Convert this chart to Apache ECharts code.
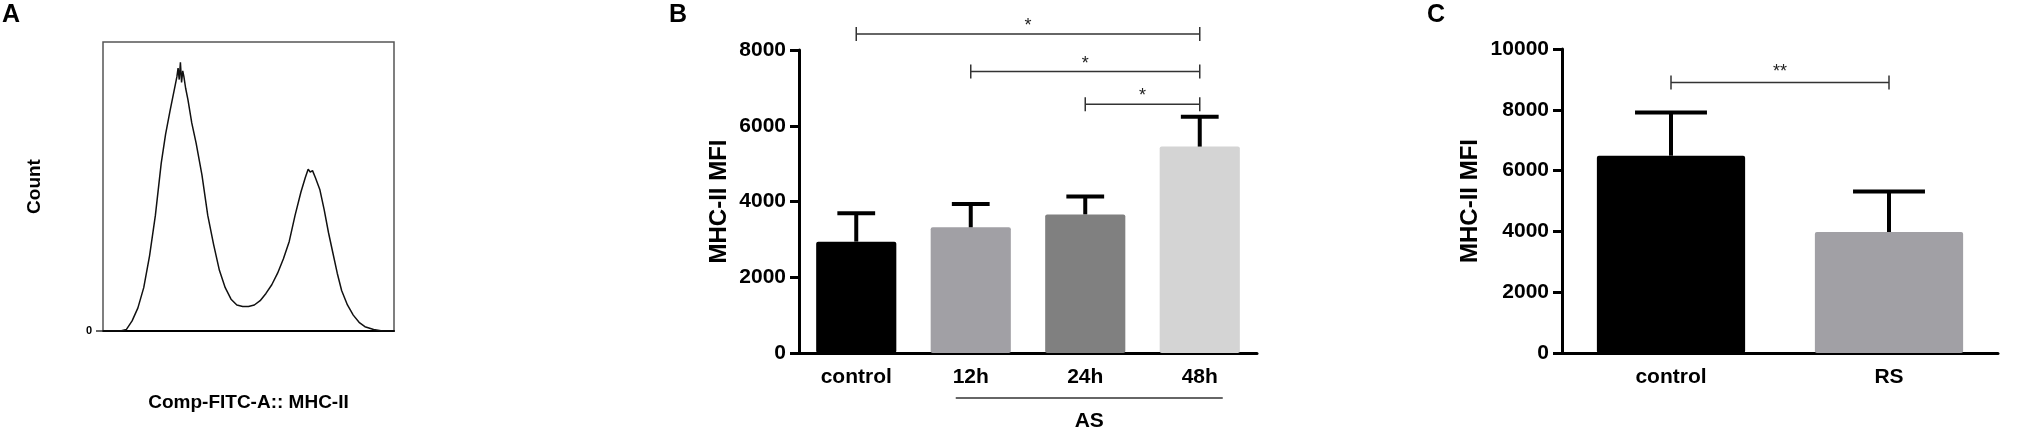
<!DOCTYPE html>
<html>
<head>
<meta charset="utf-8">
<script src="https://cdn.jsdelivr.net/npm/echarts@6/dist/echarts.min.js"></script>
<style>
  html, body { margin: 0; padding: 0; background: #fff; }
  #chart { width: 2027px; height: 432px; }
</style>
</head>
<body>
<div id="chart"></div>
<script>
// Panel A: flow histogram (channel vs relative count)
var histX = [0, 60, 80, 100, 120, 140, 160, 180, 200, 215, 230, 240, 248, 254, 258, 262, 266, 270, 274, 278,
  284, 292, 305, 320, 340, 360, 380, 400, 420, 440, 460, 480, 500, 520, 540, 560, 580, 600, 620, 640,
  660, 680, 695, 705, 712, 720, 730, 745, 760, 775, 790, 805, 820, 840, 860, 880, 900, 930, 960, 1000];
var histCount = [0, 0, 0.5, 3.5, 8, 15, 26, 40, 58, 68, 76, 81, 85, 88, 91, 87, 93, 86, 90, 88,
  84, 80, 72, 65, 54, 40, 30, 21, 15, 11, 9, 8.5, 8.5, 9, 10.5, 13, 16, 20, 25, 31,
  40, 48, 53, 56, 55, 55.5, 53, 49, 42, 34, 27, 20, 14, 9, 5.5, 3, 1.5, 0.5, 0, 0];
var histTicks = [0];

// Panel B: AS time course
var asCats = ['control', '12h', '24h', '48h'];
var asMean = [2940, 3320, 3660, 5450];
var asSd = [750, 615, 475, 790];
var asTicks = [0, 2000, 4000, 6000, 8000];
// [from, to, bracket height, mark]
var asSig = [[0, 3, 8420, '*'], [1, 3, 7430, '*'], [2, 3, 6570, '*']];

// Panel C: RS
var rsCats = ['control', 'RS'];
var rsMean = [6490, 3980];
var rsSd = [1425, 1335];
var rsTicks = [0, 2000, 4000, 6000, 8000, 10000];
var rsSig = [[0, 1, 8900, '**']];

var asColors = ['#000000', '#a1a0a5', '#808080', '#d4d4d4'];
var rsColors = ['#000000', '#a1a0a5'];

var FONT = '"Liberation Sans", Arial, sans-serif';
var c = echarts.init(document.getElementById('chart'));

function errRender(params, api) {
  var m = api.value(1), s = api.value(2);
  var base = api.coord([api.value(0), m]);
  var top = api.coord([api.value(0), m + s]);
  var hw = api.size([1, 0])[0] * 0.165;
  return {type: 'group', children: [
    {type: 'line', shape: {x1: top[0], y1: base[1], x2: top[0], y2: top[1]}, style: {stroke: '#000', lineWidth: 4}},
    {type: 'line', shape: {x1: top[0] - hw, y1: top[1], x2: top[0] + hw, y2: top[1]}, style: {stroke: '#000', lineWidth: 4}}
  ]};
}

function sigRender(list, starGap) {
  return function (params, api) {
    var s = list[params.dataIndex];
    var a = api.coord([s[0], s[2]]), b = api.coord([s[1], s[2]]);
    var y = a[1];
    var ls = {stroke: '#333', lineWidth: 1.5};
    return {type: 'group', children: [
      {type: 'line', shape: {x1: a[0], y1: y, x2: b[0], y2: y}, style: ls},
      {type: 'line', shape: {x1: a[0], y1: y - 7, x2: a[0], y2: y + 7}, style: ls},
      {type: 'line', shape: {x1: b[0], y1: y - 7, x2: b[0], y2: y + 7}, style: ls},
      {type: 'text', style: {x: (a[0] + b[0]) / 2, y: y - starGap, text: s[3], textAlign: 'center',
        textVerticalAlign: 'middle', font: '18px ' + FONT, fill: '#222'}}
    ]};
  };
}

function catAxis(idx, cats) {
  return {type: 'category', gridIndex: idx, data: cats,
    axisLine: {lineStyle: {color: '#000', width: 3}},
    axisTick: {alignWithLabel: true, length: 8, lineStyle: {color: '#000', width: 3}},
    axisLabel: {color: '#000', fontFamily: FONT, fontWeight: 'bold', fontSize: 21, margin: 14}};
}
function valAxis(idx, ticks, gap) {
  return {type: 'value', gridIndex: idx, min: ticks[0], max: ticks[ticks.length - 1], interval: ticks[1] - ticks[0],
    name: 'MHC-II MFI', nameLocation: 'middle', nameGap: gap, nameRotate: 90,
    nameTextStyle: {color: '#000', fontFamily: FONT, fontWeight: 'bold', fontSize: 24},
    splitLine: {show: false},
    axisLine: {show: true, lineStyle: {color: '#000', width: 3}},
    axisTick: {show: true, length: 9, lineStyle: {color: '#000', width: 3}},
    axisLabel: {color: '#000', fontFamily: FONT, fontWeight: 'bold', fontSize: 21, margin: 13,
      formatter: function (v) { return String(v); }}};
}

function panelLetters() {
  return [
    {type: 'text', left: 2, top: 3, style: {text: 'A', font: 'bold 25px ' + FONT, fill: '#000'}},
    {type: 'text', left: 669, top: 3, style: {text: 'B', font: 'bold 25px ' + FONT, fill: '#000'}},
    {type: 'text', left: 1427, top: 3, style: {text: 'C', font: 'bold 25px ' + FONT, fill: '#000'}}
  ];
}

c.setOption({
  animation: false,
  grid: [
    {left: 103, top: 42, width: 291, height: 289, show: true, borderColor: '#555', borderWidth: 1.5, backgroundColor: 'transparent'},
    {left: 799, top: 50, width: 458, height: 303},
    {left: 1562, top: 49, width: 436, height: 304}
  ],
  xAxis: [
    {type: 'value', gridIndex: 0, min: 0, max: 1000,
      name: 'Comp-FITC-A:: MHC-II', nameLocation: 'middle', nameGap: 62,
      nameTextStyle: {color: '#000', fontFamily: FONT, fontWeight: 'bold', fontSize: 19},
      axisLine: {lineStyle: {color: '#000', width: 2}}, axisTick: {show: false}, axisLabel: {show: false},
      splitLine: {show: false}},
    catAxis(1, asCats),
    catAxis(2, rsCats)
  ],
  yAxis: [
    {type: 'value', gridIndex: 0, min: 0, max: 100,
      name: 'Count', nameLocation: 'middle', nameGap: 59, nameRotate: 90,
      nameTextStyle: {color: '#000', fontFamily: FONT, fontWeight: 'bold', fontSize: 19},
      axisLine: {show: false}, splitLine: {show: false},
      axisTick: {show: true, length: 7, customValues: histTicks, lineStyle: {color: '#333', width: 1.5}},
      axisLabel: {customValues: histTicks, color: '#000', fontFamily: FONT, fontWeight: 'bold', fontSize: 11, margin: 11}},
    valAxis(1, asTicks, 68),
    valAxis(2, rsTicks, 80)
  ],
  graphic: panelLetters(),
  series: [
    {type: 'line', xAxisIndex: 0, yAxisIndex: 0, showSymbol: false, silent: true,
      data: histX.map(function (x, i) { return [x, histCount[i]]; }),
      lineStyle: {color: '#111', width: 1.5}},
    {type: 'bar', xAxisIndex: 1, yAxisIndex: 1, barWidth: '70%',
      data: asMean.map(function (v, i) { return {value: v, itemStyle: {color: asColors[i], borderRadius: 2}}; })},
    {type: 'custom', xAxisIndex: 1, yAxisIndex: 1, renderItem: errRender, encode: {x: 0, y: 1}, z: 3,
      data: asMean.map(function (v, i) { return [i, v, asSd[i]]; })},
    {type: 'custom', xAxisIndex: 1, yAxisIndex: 1, renderItem: sigRender(asSig, 8), encode: {x: 0, y: 2}, clip: false,
      data: asSig.map(function (s) { return [s[0], s[1], s[2]]; })},
    {type: 'bar', xAxisIndex: 2, yAxisIndex: 2, barWidth: '68%',
      data: rsMean.map(function (v, i) { return {value: v, itemStyle: {color: rsColors[i], borderRadius: 2}}; })},
    {type: 'custom', xAxisIndex: 2, yAxisIndex: 2, renderItem: errRender, encode: {x: 0, y: 1}, z: 3,
      data: rsMean.map(function (v, i) { return [i, v, rsSd[i]]; })},
    {type: 'custom', xAxisIndex: 2, yAxisIndex: 2, renderItem: sigRender(rsSig, 10), encode: {x: 0, y: 2}, clip: false,
      data: rsSig.map(function (s) { return [s[0], s[1], s[2]]; })}
  ]
});

// group line under 12h..48h with "AS"
var p1 = c.convertToPixel({gridIndex: 1}, ['12h', 0]);
var p2 = c.convertToPixel({gridIndex: 1}, ['48h', 0]);
var gx1 = p1[0] - 15, gx2 = p2[0] + 23, gy = p1[1] + 45;
c.setOption({graphic: panelLetters().concat([
  {type: 'line', shape: {x1: gx1, y1: gy, x2: gx2, y2: gy}, style: {stroke: '#333', lineWidth: 1.5}},
  {type: 'text', x: (gx1 + gx2) / 2, y: gy + 23, style: {text: 'AS', font: 'bold 21px ' + FONT, fill: '#000',
    textAlign: 'center', textVerticalAlign: 'middle'}}
])}, {replaceMerge: ['graphic']});

window.addEventListener('resize', function () { c.resize(); });
</script>
</body>
</html>
